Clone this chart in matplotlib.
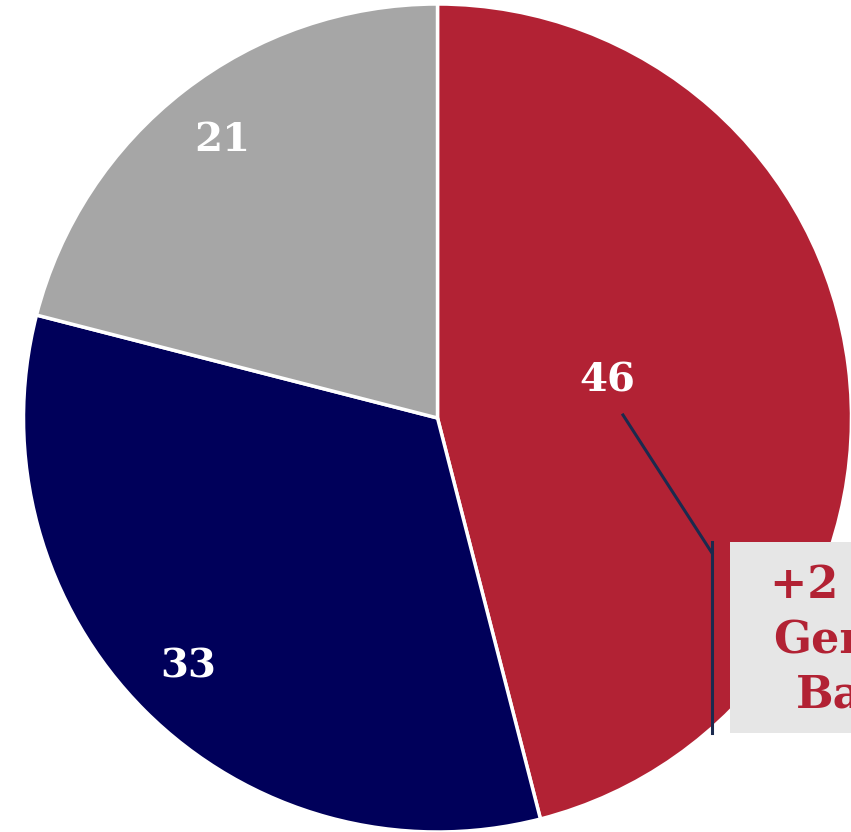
import numpy as np
import matplotlib
matplotlib.use('Agg')
import matplotlib.pyplot as plt
import matplotlib.patches as mpatches

# slice data, clockwise from 12 o'clock
labels = ['46', '33', '21']
values = [46, 33, 21]
colors = ['#b22234', '#00005a', '#a6a6a6']
note_text = '+2 from\nGeneral\nBallot'

# pixel helpers (pie centre and radius in the 851x832 frame)
cx, cy, rad = 437.5, 418.0, 414.0
def px(x, y):
    return (x - cx) / rad, (cy - y) / rad

fig = plt.figure(figsize=(8.51, 8.32), dpi=100)
ax = fig.add_axes([0, 0, 1, 1])

wedges, _ = ax.pie(values, colors=colors, startangle=90, counterclock=False,
                   radius=1.0, wedgeprops={'edgecolor': 'white', 'linewidth': 2.5})

font = {'family': 'DejaVu Serif', 'weight': 'bold'}

# value labels: outer slices at 0.85r on the mid-angle, red one nudged in
for i, w in enumerate(wedges):
    mid = np.deg2rad((w.theta1 + w.theta2) / 2)
    if i == 0:
        r_lab, mid = 0.42, mid + np.deg2rad(5.3)
    else:
        r_lab = 0.85
    ax.text(r_lab * np.cos(mid), r_lab * np.sin(mid), labels[i], color='white',
            fontsize=29, ha='center', va='center', **font)

# callout box and leader line
bx0, by0 = px(730, 733)
bx1, by1 = px(900, 542)
ax.add_patch(mpatches.Rectangle((bx0, by0), bx1 - bx0, by1 - by0,
                                facecolor='#e6e6e6', edgecolor='none', zorder=3))
p0 = px(623, 415)
p1 = px(712, 553)
ax.plot([p0[0], p1[0]], [p0[1], p1[1]], color='#1b2a4e', lw=2.2, zorder=4)
v0 = px(712, 542)
v1 = px(712, 733)
ax.plot([v0[0], v1[0]], [v0[1], v1[1]], color='#1b2a4e', lw=2.2, zorder=4)

tx, ty = px(770, 640)
ax.text(tx, ty, note_text, color='#b22234', fontsize=32, ha='left', va='center',
        multialignment='center', linespacing=1.36, zorder=5, **font)

ax.set_xlim(px(0, 0)[0], px(851, 0)[0])
ax.set_ylim(px(0, 832)[1], px(0, 0)[1])
ax.set_aspect('equal')
ax.axis('off')

fig.savefig('out.png', dpi=100)
